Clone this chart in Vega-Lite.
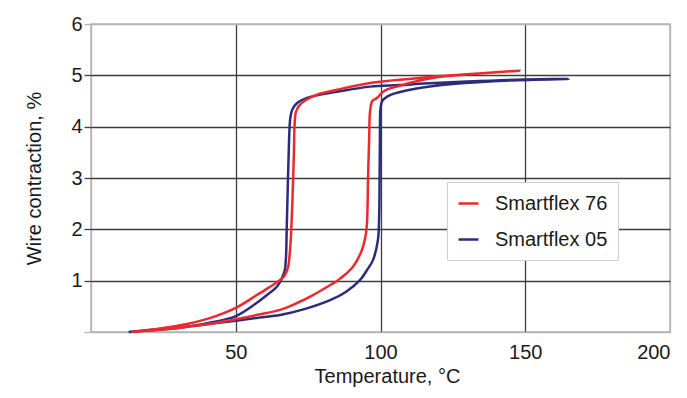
{
  "$schema": "https://vega.github.io/schema/vega-lite/v6.json",
  "autosize": {"type": "none"},
  "width": 579,
  "height": 308,
  "padding": {"left": 91, "top": 24, "right": 17, "bottom": 66},
  "background": "white",
  "config": {
    "font": "Liberation Sans",
    "view": {"stroke": "#b4b4b4", "strokeWidth": 1.5}
  },
  "data": {"values": [
    {"s":"Smartflex 05","i":1,"t":13,"c":0},
    {"s":"Smartflex 05","i":2,"t":20,"c":0.04},
    {"s":"Smartflex 05","i":3,"t":30,"c":0.09},
    {"s":"Smartflex 05","i":4,"t":40,"c":0.15},
    {"s":"Smartflex 05","i":5,"t":50,"c":0.22},
    {"s":"Smartflex 05","i":6,"t":58,"c":0.28},
    {"s":"Smartflex 05","i":7,"t":65.3,"c":0.33},
    {"s":"Smartflex 05","i":8,"t":74,"c":0.45},
    {"s":"Smartflex 05","i":9,"t":82.6,"c":0.62},
    {"s":"Smartflex 05","i":10,"t":88,"c":0.78},
    {"s":"Smartflex 05","i":11,"t":92.9,"c":1.01},
    {"s":"Smartflex 05","i":12,"t":95.5,"c":1.22},
    {"s":"Smartflex 05","i":13,"t":97.4,"c":1.4},
    {"s":"Smartflex 05","i":14,"t":99.1,"c":1.79},
    {"s":"Smartflex 05","i":15,"t":99.5,"c":2.18},
    {"s":"Smartflex 05","i":16,"t":99.7,"c":3.0},
    {"s":"Smartflex 05","i":17,"t":99.8,"c":3.8},
    {"s":"Smartflex 05","i":18,"t":100,"c":4.35},
    {"s":"Smartflex 05","i":19,"t":100.6,"c":4.5},
    {"s":"Smartflex 05","i":20,"t":101.6,"c":4.56},
    {"s":"Smartflex 05","i":21,"t":103.5,"c":4.62},
    {"s":"Smartflex 05","i":22,"t":105.7,"c":4.66},
    {"s":"Smartflex 05","i":23,"t":112,"c":4.74},
    {"s":"Smartflex 05","i":24,"t":125,"c":4.83},
    {"s":"Smartflex 05","i":25,"t":145,"c":4.9},
    {"s":"Smartflex 05","i":26,"t":165,"c":4.93},
    {"s":"Smartflex 05","i":27,"t":150,"c":4.92},
    {"s":"Smartflex 05","i":28,"t":130,"c":4.88},
    {"s":"Smartflex 05","i":29,"t":115,"c":4.84},
    {"s":"Smartflex 05","i":30,"t":106.7,"c":4.81},
    {"s":"Smartflex 05","i":31,"t":96.4,"c":4.78},
    {"s":"Smartflex 05","i":32,"t":85,"c":4.68},
    {"s":"Smartflex 05","i":33,"t":78,"c":4.61},
    {"s":"Smartflex 05","i":34,"t":74.6,"c":4.56},
    {"s":"Smartflex 05","i":35,"t":71.2,"c":4.46},
    {"s":"Smartflex 05","i":36,"t":69.5,"c":4.33},
    {"s":"Smartflex 05","i":37,"t":68.8,"c":4.15},
    {"s":"Smartflex 05","i":38,"t":68.4,"c":3.7},
    {"s":"Smartflex 05","i":39,"t":68,"c":2.9},
    {"s":"Smartflex 05","i":40,"t":67.6,"c":2.0},
    {"s":"Smartflex 05","i":41,"t":67.3,"c":1.4},
    {"s":"Smartflex 05","i":42,"t":66.8,"c":1.17},
    {"s":"Smartflex 05","i":43,"t":64.2,"c":0.88},
    {"s":"Smartflex 05","i":44,"t":61,"c":0.73},
    {"s":"Smartflex 05","i":45,"t":57.3,"c":0.57},
    {"s":"Smartflex 05","i":46,"t":50,"c":0.31},
    {"s":"Smartflex 05","i":47,"t":41,"c":0.18},
    {"s":"Smartflex 05","i":48,"t":30,"c":0.08},
    {"s":"Smartflex 05","i":49,"t":20,"c":0.03},
    {"s":"Smartflex 05","i":50,"t":13,"c":0},
    {"s":"Smartflex 76","i":1,"t":14,"c":0},
    {"s":"Smartflex 76","i":2,"t":20,"c":0.03},
    {"s":"Smartflex 76","i":3,"t":30,"c":0.08},
    {"s":"Smartflex 76","i":4,"t":40,"c":0.15},
    {"s":"Smartflex 76","i":5,"t":50,"c":0.25},
    {"s":"Smartflex 76","i":6,"t":58,"c":0.34},
    {"s":"Smartflex 76","i":7,"t":65.3,"c":0.43},
    {"s":"Smartflex 76","i":8,"t":71,"c":0.56},
    {"s":"Smartflex 76","i":9,"t":76.7,"c":0.72},
    {"s":"Smartflex 76","i":10,"t":81,"c":0.86},
    {"s":"Smartflex 76","i":11,"t":85.3,"c":1.01},
    {"s":"Smartflex 76","i":12,"t":88,"c":1.13},
    {"s":"Smartflex 76","i":13,"t":90.5,"c":1.27},
    {"s":"Smartflex 76","i":14,"t":93.6,"c":1.6},
    {"s":"Smartflex 76","i":15,"t":95,"c":1.93},
    {"s":"Smartflex 76","i":16,"t":95.4,"c":2.2},
    {"s":"Smartflex 76","i":17,"t":95.7,"c":3.0},
    {"s":"Smartflex 76","i":18,"t":96.1,"c":3.8},
    {"s":"Smartflex 76","i":19,"t":96.4,"c":4.3},
    {"s":"Smartflex 76","i":20,"t":97.2,"c":4.5},
    {"s":"Smartflex 76","i":21,"t":98.8,"c":4.56},
    {"s":"Smartflex 76","i":22,"t":100.9,"c":4.68},
    {"s":"Smartflex 76","i":23,"t":103,"c":4.74},
    {"s":"Smartflex 76","i":24,"t":105.7,"c":4.78},
    {"s":"Smartflex 76","i":25,"t":110,"c":4.85},
    {"s":"Smartflex 76","i":26,"t":118,"c":4.95},
    {"s":"Smartflex 76","i":27,"t":133,"c":5.03},
    {"s":"Smartflex 76","i":28,"t":148,"c":5.09},
    {"s":"Smartflex 76","i":29,"t":135,"c":5.04},
    {"s":"Smartflex 76","i":30,"t":120,"c":4.98},
    {"s":"Smartflex 76","i":31,"t":110,"c":4.93},
    {"s":"Smartflex 76","i":32,"t":96.4,"c":4.85},
    {"s":"Smartflex 76","i":33,"t":85,"c":4.72},
    {"s":"Smartflex 76","i":34,"t":79,"c":4.64},
    {"s":"Smartflex 76","i":35,"t":75.6,"c":4.56},
    {"s":"Smartflex 76","i":36,"t":72.2,"c":4.43},
    {"s":"Smartflex 76","i":37,"t":70.8,"c":4.29},
    {"s":"Smartflex 76","i":38,"t":70.3,"c":4.0},
    {"s":"Smartflex 76","i":39,"t":70.1,"c":3.5},
    {"s":"Smartflex 76","i":40,"t":69.6,"c":2.6},
    {"s":"Smartflex 76","i":41,"t":69.1,"c":1.9},
    {"s":"Smartflex 76","i":42,"t":68.6,"c":1.5},
    {"s":"Smartflex 76","i":43,"t":68.1,"c":1.27},
    {"s":"Smartflex 76","i":44,"t":66.5,"c":1.07},
    {"s":"Smartflex 76","i":45,"t":64.2,"c":0.97},
    {"s":"Smartflex 76","i":46,"t":61,"c":0.85},
    {"s":"Smartflex 76","i":47,"t":57.3,"c":0.72},
    {"s":"Smartflex 76","i":48,"t":50,"c":0.47},
    {"s":"Smartflex 76","i":49,"t":41,"c":0.27},
    {"s":"Smartflex 76","i":50,"t":30,"c":0.12},
    {"s":"Smartflex 76","i":51,"t":20,"c":0.04},
    {"s":"Smartflex 76","i":52,"t":14,"c":0}
  ]},
  "mark": {"type": "line", "strokeWidth": 2.5, "interpolate": "catmull-rom"},
  "encoding": {
    "x": {
      "field": "t", "type": "quantitative",
      "scale": {"domain": [0, 200], "nice": false},
      "axis": {
        "title": "Temperature, °C",
        "values": [0, 50, 100, 150, 200],
        "labelExpr": "datum.value == 0 ? '' : datum.label",
        "domain": false,
        "ticks": false,
        "labelFontSize": 20,
        "labelColor": "#1a1a1a",
        "labelBaseline": "alphabetic",
        "labelPadding": 26,
        "titleFontSize": 20,
        "titleFontWeight": "normal",
        "titleColor": "#1a1a1a",
        "titleBaseline": "alphabetic",
        "titleX": 296,
        "titleY": 50,
        "gridColor": {"condition": {"test": "datum.value == 0 || datum.value == 200", "value": "#b4b4b4"}, "value": "#3c3c3c"},
        "gridWidth": 1.3,
        "gridOpacity": 1
      }
    },
    "y": {
      "field": "c", "type": "quantitative",
      "scale": {"domain": [0, 6], "nice": false},
      "axis": {
        "title": "Wire contraction, %",
        "values": [0, 1, 2, 3, 4, 5, 6],
        "labelExpr": "datum.value == 0 ? '' : datum.label",
        "domain": false,
        "tickSize": 7,
        "tickWidth": 1.3,
        "tickColor": {"condition": {"test": "datum.value == 0 || datum.value == 6", "value": "#b4b4b4"}, "value": "#3c3c3c"},
        "labelPadding": 2,
        "labelFontSize": 20,
        "labelColor": "#1a1a1a",
        "titleFontSize": 20,
        "titleFontWeight": "normal",
        "titleColor": "#1a1a1a",
        "titleBaseline": "middle",
        "titleX": -57,
        "titleY": 154,
        "gridColor": {"condition": {"test": "datum.value == 0 || datum.value == 6", "value": "#b4b4b4"}, "value": "#3c3c3c"},
        "gridWidth": 1.3,
        "gridOpacity": 1
      }
    },
    "color": {
      "field": "s", "type": "nominal",
      "scale": {"domain": ["Smartflex 76", "Smartflex 05"], "range": ["#ec2a2e", "#2b2d7c"]},
      "legend": {
        "title": null,
        "orient": "none",
        "legendX": 356,
        "legendY": 158,
        "padding": 10,
        "fillColor": "white",
        "strokeColor": "#cfcfcf",
        "symbolType": "stroke",
        "symbolSize": 400,
        "symbolStrokeWidth": 2.5,
        "labelFontSize": 20,
        "labelColor": "#1a1a1a",
        "labelOffset": 15,
        "rowPadding": 14
      }
    },
    "order": {"field": "i", "type": "quantitative"}
  }
}
